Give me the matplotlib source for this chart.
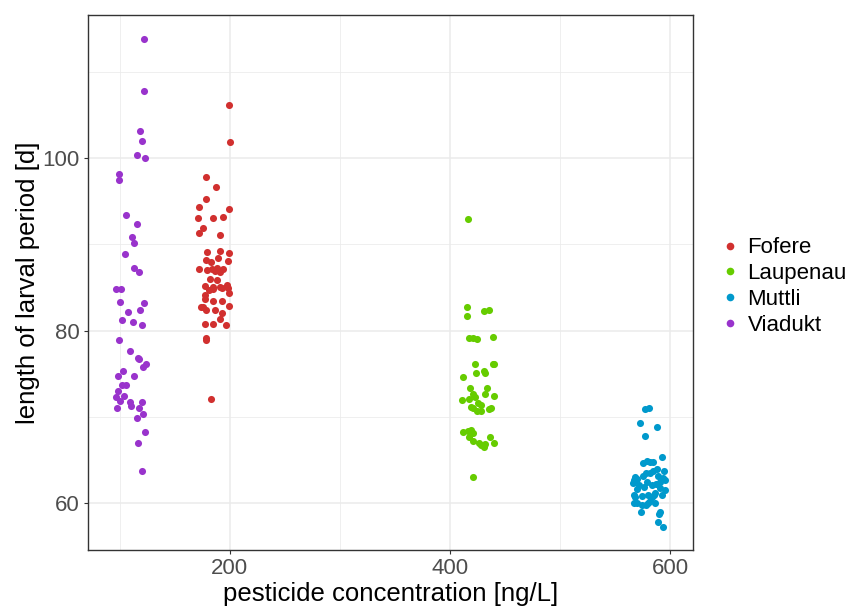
import matplotlib.pyplot as plt
from matplotlib.lines import Line2D

plt.rcParams['font.family'] = ['Liberation Sans', 'DejaVu Sans']

# site names and colours
sites = ['Fofere', 'Laupenau', 'Muttli', 'Viadukt']
colors = ['#D1302F', '#66CC00', '#0099CC', '#9933CC']

# Fofere (red)
fofere_x = [199.3, 199.9, 178.7, 186.9, 178.7, 171.7, 199.6, 171.1, 184.7, 193.3,
            175.6, 171.5, 191.1, 179.3, 191.1, 199.3, 178.4, 182.4, 189.6, 198.4,
            172.0, 179.6, 183.8, 186.3, 190.8, 193.8, 188.4, 181.7, 188.7, 177.8,
            184.7, 190.8, 196.9, 198.1, 181.1, 184.2, 177.5, 199.0, 192.9, 177.2,
            184.7, 192.6, 175.1, 173.3, 178.7, 186.6, 192.9, 199.0, 177.2, 184.2,
            190.8, 196.3, 178.4, 178.1, 182.6]
fofere_y = [106.1, 101.9, 97.8, 96.6, 95.3, 94.3, 94.1, 93.1, 93.0, 93.2,
            91.9, 91.3, 91.1, 89.1, 89.2, 89.0, 88.2, 88.0, 88.4, 88.1,
            87.1, 87.0, 87.1, 86.9, 86.8, 87.1, 87.3, 86.0, 85.9, 85.2,
            85.1, 85.1, 85.3, 85.0, 84.7, 84.8, 84.1, 84.4, 85.0, 83.7,
            83.4, 83.4, 82.8, 82.8, 82.4, 82.4, 82.1, 82.9, 80.8, 80.8,
            81.3, 80.7, 79.2, 78.9, 72.1]

# Laupenau (green)
laupenau_x = [415.9, 415.2, 415.5, 430.4, 435.0, 417.3, 421.0, 424.0, 438.9, 422.5,
              438.6, 440.0, 423.1, 430.7, 431.9, 411.9, 417.7, 433.4, 421.0, 422.8,
              431.9, 439.8, 410.7, 416.8, 418.6, 421.0, 425.2, 428.2, 427.7, 424.6,
              435.5, 437.3, 411.9, 415.9, 418.6, 420.4, 417.1, 421.0, 426.1, 427.7,
              430.7, 431.6, 435.9, 439.5, 420.7]
laupenau_y = [92.9, 82.75, 81.7, 82.25, 82.4, 79.2, 79.1, 79.0, 79.3, 76.2,
              76.1, 76.1, 75.1, 75.3, 75.1, 74.6, 73.4, 73.4, 72.7, 72.3,
              72.7, 72.4, 71.95, 72.1, 71.2, 71.0, 71.6, 71.4, 70.7, 70.7,
              70.9, 71.1, 68.3, 68.4, 68.5, 68.2, 67.7, 67.2, 67.0, 66.8,
              66.5, 66.9, 67.7, 67.0, 63.0]

# Muttli (blue)
muttli_x = [577.2, 580.9, 572.2, 587.9, 577.2, 592.1, 574.9, 578.5, 581.5, 584.0,
            587.6, 594.5, 567.9, 570.0, 577.9, 581.5, 584.5, 571.8, 576.3, 583.3,
            587.0, 590.6, 593.6, 595.4, 565.8, 567.0, 569.4, 594.9, 567.0, 568.0,
            574.0, 580.0, 586.1, 592.1, 583.1, 567.0, 570.0, 574.0, 577.9, 580.0,
            586.3, 573.3, 589.4, 590.9, 589.1, 593.6, 588.5, 591.0, 579.0, 585.0,
            575.5, 582.0]
muttli_y = [70.9, 71.1, 69.3, 68.8, 67.8, 65.35, 64.7, 64.9, 64.8, 64.8,
            64.0, 63.8, 63.0, 62.8, 63.5, 63.5, 63.7, 62.1, 61.9, 62.1,
            62.3, 62.5, 62.9, 62.7, 62.4, 62.7, 61.7, 61.6, 60.95, 60.75,
            60.8, 60.95, 61.15, 60.95, 60.7, 60.0, 60.05, 59.8, 59.8, 60.0,
            60.0, 59.0, 58.8, 58.95, 57.9, 57.3, 63.2, 61.8, 62.5, 61.0,
            63.2, 60.3]

# Viadukt (purple)
viadukt_x = [122.0, 121.8, 117.9, 120.0, 116.0, 122.9, 99.3, 99.1, 105.7, 116.0,
             110.6, 112.4, 104.5, 113.3, 117.8, 96.4, 100.9, 100.0, 121.8, 107.2,
             118.1, 101.8, 111.8, 119.9, 99.1, 109.1, 116.4, 117.3, 123.6, 120.9,
             102.7, 98.2, 112.7, 101.8, 105.4, 98.2, 96.4, 103.6, 100.0, 109.1,
             97.3, 110.0, 119.9, 117.3, 120.9, 115.4, 122.7, 116.4, 120.0]
viadukt_y = [113.8, 107.8, 103.1, 102.0, 100.3, 99.97, 98.1, 97.4, 93.4, 92.4,
             90.9, 90.2, 88.85, 87.3, 86.8, 84.8, 84.8, 83.3, 83.2, 82.2,
             82.4, 81.2, 81.0, 80.7, 78.9, 77.7, 76.8, 76.7, 76.2, 75.8,
             75.3, 74.7, 74.8, 73.7, 73.7, 73.0, 72.3, 72.4, 71.9, 71.8,
             71.1, 71.3, 71.7, 71.1, 70.4, 69.9, 68.3, 67.0, 63.7]

xs = [fofere_x, laupenau_x, muttli_x, viadukt_x]
ys = [fofere_y, laupenau_y, muttli_y, viadukt_y]

fig = plt.figure(figsize=(8.49, 6.06), dpi=100)
ax = fig.add_axes([0.1037, 0.0924, 0.7126, 0.8826])

for x, y, c in zip(xs, ys, colors):
    ax.scatter(x, y, s=26, color=c, linewidths=0, zorder=3)

ax.set_xlim(71.1, 620.7)
ax.set_ylim(54.6, 116.55)
ax.set_xticks([200, 400, 600])
ax.set_yticks([60, 80, 100])
ax.set_xticks([100, 300, 500], minor=True)
ax.set_yticks([70, 90, 110], minor=True)
ax.grid(which='major', color='#EBEBEB', linewidth=1.1, zorder=0)
ax.grid(which='minor', color='#EBEBEB', linewidth=0.55, zorder=0)
ax.set_axisbelow(True)
for sp in ax.spines.values():
    sp.set_color('#333333')
    sp.set_linewidth(1.0)
ax.tick_params(which='major', length=3, width=0.8, color='#333333',
               labelsize=16, labelcolor='#4D4D4D', pad=3)
ax.tick_params(which='minor', length=0)

ax.set_xlabel('pesticide concentration [ng/L]', fontsize=18.5, labelpad=2)
ax.set_ylabel('length of larval period [d]', fontsize=18.5, labelpad=2)

handles = [Line2D([], [], marker='o', linestyle='', markersize=5.5,
                  markerfacecolor=c, markeredgewidth=0) for c in colors]
fig.legend(handles, sites, loc='center left', bbox_to_anchor=(0.849, 0.527),
           frameon=False, fontsize=16, handlelength=0.8, handletextpad=0.4,
           labelspacing=0.22, borderpad=0, borderaxespad=0)

fig.savefig('out.png', dpi=100)
